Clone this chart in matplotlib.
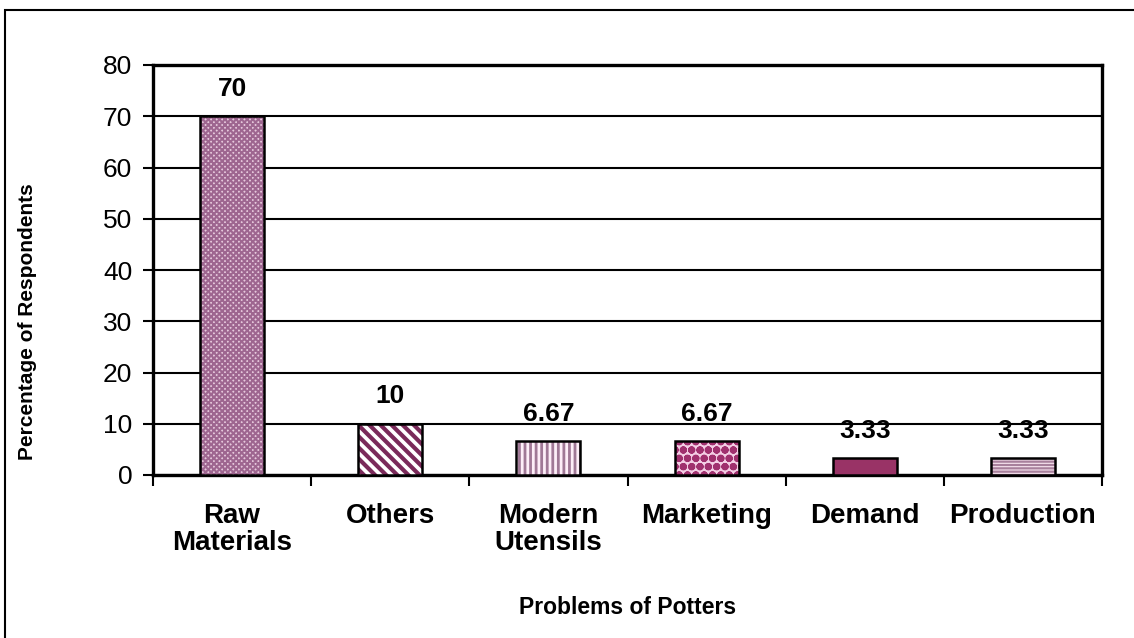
import matplotlib
matplotlib.use("Agg")
import matplotlib.pyplot as plt
from matplotlib.patches import Rectangle

categories = ["Raw\nMaterials", "Others", "Modern\nUtensils", "Marketing", "Demand", "Production"]
values = [70, 10, 6.67, 6.67, 3.33, 3.33]
value_labels = ["70", "10", "6.67", "6.67", "3.33", "3.33"]
y_ticks = [0, 10, 20, 30, 40, 50, 60, 70, 80]

hatches = ["xxxxxx", "\\\\\\", "|||", "oo", "", "-----"]
faces = ["#e6c8dc", "white", "#fdeef8", "#f3cde4", "#993366", "#f8e4f0"]
hcolors = ["#9e6690", "#7a2a5a", "#a07896", "#a0306e", "#993366", "#a8809c"]
hwidths = [1.5, 3.0, 2.0, 2.8, 1.0, 1.6]

plt.rcParams['font.family'] = ['Liberation Sans', 'DejaVu Sans']
plt.rcParams['hatch.linewidth'] = 2.0

fig = plt.figure(figsize=(11.34, 6.38), dpi=100)
ax = fig.add_axes([153/1134, 1 - 475/638, (1102-153)/1134, (475-65)/638])

x = list(range(len(categories)))
w = 0.405
ax.bar(x, values, width=w, color=faces, linewidth=0, zorder=3)
for xi, v, h, hc, hw in zip(x, values, hatches, hcolors, hwidths):
    if h:
        b = ax.bar(xi, v, width=w, color='none', edgecolor=hc, hatch=h, linewidth=0, zorder=3)
        for p in b.patches:
            try:
                p.set_hatch_linewidth(hw)
            except Exception:
                pass
ax.bar(x, values, width=w, color='none', edgecolor='black', linewidth=1.8, zorder=4)

for xi, v, lab in zip(x, values, value_labels):
    ax.annotate(lab, (xi, v), xytext=(0, 11), textcoords='offset points',
                ha='center', va='bottom', fontsize=19, fontweight='bold')

ax.set_xlim(-0.5, len(categories) - 0.5)
ax.set_ylim(0, 80)
ax.set_yticks(y_ticks)
ax.tick_params(axis='y', labelsize=19, length=7, width=1.5, direction='out', pad=8)
ax.yaxis.grid(True, color='black', linewidth=1.5, zorder=0)
ax.set_axisbelow(True)

ax.set_xticks(x)
ax.set_xticklabels(categories, fontsize=20, fontweight='bold', linespacing=1.05)
ax.tick_params(axis='x', which='major', length=0, pad=20)
ax.set_xticks([i - 0.5 for i in range(len(categories) + 1)], minor=True)
ax.tick_params(axis='x', which='minor', length=8, width=1.5, direction='out')

for s in ax.spines.values():
    s.set_linewidth(2.4)
    s.set_color('black')

fig.text(28/1134, 1 - 322/638, "Percentage of Respondents", rotation=90,
         ha='center', va='center', fontsize=15, fontweight='bold')
fig.text(628/1134, 1 - 607/638, "Problems of Potters",
         ha='center', va='center', fontsize=16.5, fontweight='bold')

fig.patches.append(Rectangle((5/1134, -0.1), 1.2, 1 - 10/638 + 0.1,
                             transform=fig.transFigure, fill=False,
                             edgecolor='black', linewidth=1.5))

fig.savefig("out.png", dpi=100)
